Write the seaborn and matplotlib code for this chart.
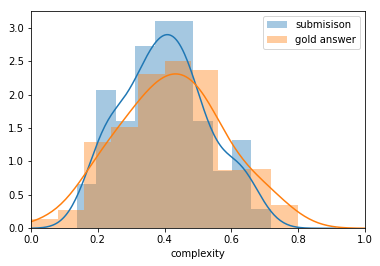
import numpy as np
import matplotlib
matplotlib.use("Agg")
import matplotlib.pyplot as plt
import seaborn as sns
from matplotlib.patches import Patch

# 10 equal bins per series: (min, max) of the data and the bar heights (density)
sub_range = (0.138, 0.718)
sub_density = [0.66, 2.07, 1.61, 2.73, 3.10, 3.10, 1.61, 0.86, 1.32, 0.29]
gold_range = (0.0, 0.80)
gold_density = [0.14, 0.27, 1.29, 1.51, 2.31, 2.50, 2.37, 0.87, 0.89, 0.35]
labels = ["submisison", "gold answer"]

fig = plt.figure(figsize=(380 / 72, 266 / 72), dpi=72)
ax = fig.add_axes([0.0816, 0.1417, 0.8789, 0.8181])
colors = sns.color_palette("tab10")[:2]

# smoothing per series (kde run on the binned values)
bw = [0.56, 0.65]
cuts = [3.6, 3.2]

for rng, dens, col, b, c in zip([sub_range, gold_range], [sub_density, gold_density],
                                colors, bw, cuts):
    edges = np.linspace(rng[0], rng[1], len(dens) + 1)
    centers = (edges[:-1] + edges[1:]) / 2
    sns.histplot(x=centers, weights=dens, bins=len(dens), binrange=rng, stat="count",
                 color=col, alpha=0.4, linewidth=0, ax=ax)
    sns.kdeplot(x=centers, weights=dens, bw_adjust=b, cut=c,
                color=col, linewidth=1.5, ax=ax)

ax.set_xlim(0, 1)
ax.set_ylabel("")
ax.set_xlabel("complexity")
handles = [Patch(facecolor=c, alpha=0.4, label=l) for c, l in zip(colors, labels)]
ax.legend(handles=handles, loc="upper right")

fig.savefig("out.png", dpi=72)
